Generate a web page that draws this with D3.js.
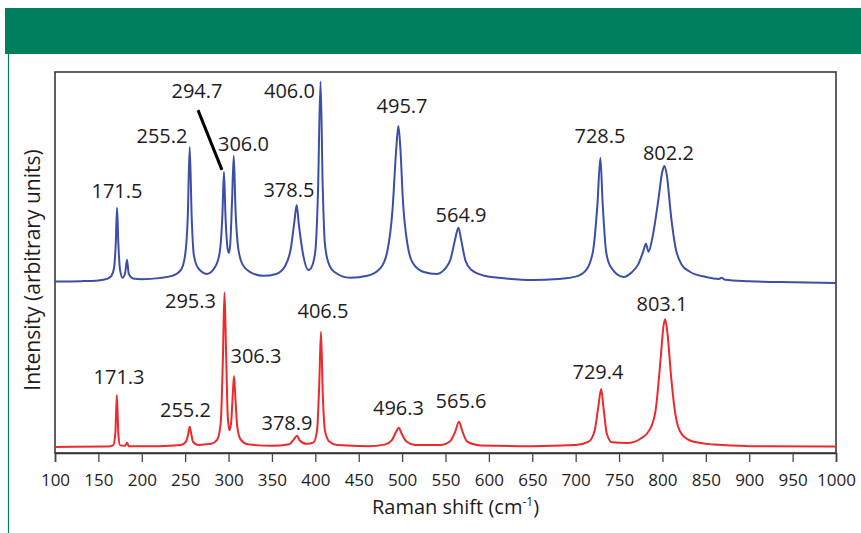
<!DOCTYPE html>
<html>
<head>
<meta charset="utf-8">
<script src="https://cdn.jsdelivr.net/npm/d3@7"></script>
<style>
  body { margin: 0; background: #fff; }
  text { font-family: "Open Sans", sans-serif; fill: #1f1c1d; }
</style>
</head>
<body>
<div id="chart"></div>
<script>
// Upper (blue) spectrum
const blueShift = [100,130,150,160,165,168,170,171.5,173,175,178,181,183,185,190,200,220,235,245,250,253,255.2,257.5,260,265,275,285,290,293,294.7,296.5,299,300.5,302,304,306,308,311,316,325,340,355,365,372,376,378.5,381,386,392,395,400,403,406,408.5,411,415,422,440,460,475,483,489,493,495.7,498,501,506,512,525,540,550,556,561,564.9,568,573,580,595,620,650,680,700,712,720,725,728.5,731,735,740,755,765,772,778,781,784,788,795,800,802.2,805,810,815,822,832,850,865,868,872,900,950,1000];
const blueIntensity = [45.0,45.1,45.3,45.7,46.5,48.5,55,64.4,55,48,46.0,47.5,50.7,47,45.8,45.6,45.9,46.5,48,52,62,80.3,62,52,48.5,47,49,53,63,73.8,62,53.5,52.5,55,66,78.0,64,54,49.5,47.5,46.5,47,49,54,61,65.1,60,52,48,48.5,53,68,97.5,70,55,50,47.5,46,46.5,48.5,53,64,79,85.8,80,66,55,50,47.5,47,48.5,51,56,59.1,56,50.5,48,46.5,45.8,45.4,45.7,46.3,48,53,65,77.5,66,53,49,46.2,47.5,49.5,53,54.9,52.8,56,66,74,75.3,73,62,54,49.5,47.5,46.2,45.7,46,45.5,45.1,44.8,44.6];

// Lower (red) spectrum
const redShift = [100,160,167,169.5,171.3,173,175,181,183,185,220,245,251,253.5,255.2,257,259,265,280,287,291,293.5,295.3,297,299,301,303,305,306.3,308,310,314,322,350,370,375,378.9,382,390,398,402,404.5,406.5,408.5,411,416,425,460,480,488,493,496.3,499,505,515,545,555,561,565.6,569,575,590,650,700,715,722,726,729.4,732,736,742,760,775,785,792,798,801,803.1,806,810,815,822,835,860,900,1000];
const redIntensity = [1.6,1.7,2.0,5,15.2,5,2.0,1.9,2.7,1.8,1.8,2.1,3,5,6.9,5,3,2.1,2.4,3.5,8,25,42.1,28,10,6.0,8,16,20.2,14,7,3.5,2.3,1.9,2.3,3.5,4.5,3.3,2.4,2.8,6,18,31.8,16,6,3,2.1,1.8,2.2,3.3,5.5,6.6,5.3,3,2.1,2.1,3,5.5,8.2,6,3,2,1.8,2.1,3,6,12,16.8,12,5,2.8,2.6,3.8,6,11,25,33,35.1,31,20,10,5,3,2.2,1.8,1.7];

// Peak labels (text, centre in cm-1, baseline in intensity units)
const blueLabels = ["171.5","255.2","294.7","306.0","378.5","406.0","495.7","564.9","728.5","802.2"];
const blueLabelX = [171.4,223.3,263.6,317.2,369.6,370.2,499.9,567.9,728.0,806.9];
const blueLabelY = [66.9,81.4,93.2,79.3,67.2,93.2,89.2,60.7,81.4,76.9];

const redLabels = ["171.3","255.2","295.3","306.3","378.9","406.5","496.3","565.6","729.4","803.1"];
const redLabelX = [173.8,250.4,256.1,331.6,367.3,408.8,495.8,567.9,725.7,799.5];
const redLabelY = [18.1,9.4,38.1,23.6,6.0,35.4,10.0,11.8,19.4,37.3];

// leader line for the 294.7 label
const leader = [[264.8, 90.0], [292.4, 74.3]];

const xTicks = d3.range(100, 1001, 50);

const W = 861, H = 533;
const margin = { top: 72, right: 25, bottom: 80, left: 55 };

const svg = d3.select("#chart").append("svg")
  .attr("width", W).attr("height", H);

svg.append("rect").attr("width", W).attr("height", H).attr("fill", "#fff");

// green header band + left rule
svg.append("rect")
  .attr("x", 5).attr("y", 8).attr("width", W - 5).attr("height", 46)
  .attr("fill", "#007f5f");
svg.append("line")
  .attr("x1", 8.5).attr("x2", 8.5).attr("y1", 54).attr("y2", H)
  .attr("stroke", "#007f5f").attr("stroke-width", 1.2);

const x = d3.scaleLinear().domain([100, 1000]).range([margin.left, W - margin.right]);
const y = d3.scaleLinear().domain([0, 100]).range([H - margin.bottom, margin.top]);

// frame
svg.append("rect")
  .attr("x", x(100)).attr("y", y(100))
  .attr("width", x(1000) - x(100)).attr("height", y(0) - y(100))
  .attr("fill", "none").attr("stroke", "#3a3a3a").attr("stroke-width", 1.6);

const xAxis = svg.append("g")
  .attr("transform", `translate(0,${y(0)})`)
  .call(d3.axisBottom(x).tickValues(xTicks).tickSize(9).tickPadding(12).tickFormat(d3.format("d")));
xAxis.select(".domain").attr("stroke", "#333").attr("stroke-width", 1.6);
xAxis.selectAll(".tick line").attr("stroke", "#444").attr("stroke-width", 1.3);
xAxis.selectAll(".tick text")
  .style("font-family", '"Open Sans", sans-serif')
  .style("font-size", "17px").attr("fill", "#1f1c1d");

// axis titles
const xt = svg.append("text")
  .attr("x", (x(100) + x(1000)) / 2 + 10).attr("y", 514)
  .attr("text-anchor", "middle").style("font-size", "20px");
xt.append("tspan").text("Raman shift (cm");
xt.append("tspan").text("-1").style("font-size", "12px").attr("dy", -8);
xt.append("tspan").text(")").attr("dy", 8);

svg.append("text")
  .attr("transform", `translate(40,${270}) rotate(-90)`)
  .attr("text-anchor", "middle").style("font-size", "21px")
  .text("Intensity (arbitrary units)");

// spectra
const line = d3.line().x(d => x(d[0])).y(d => y(d[1])).curve(d3.curveMonotoneX);

svg.append("path")
  .datum(d3.zip(blueShift, blueIntensity))
  .attr("d", line).attr("fill", "none")
  .attr("stroke", "#3b4fa6").attr("stroke-width", 2);

svg.append("path")
  .datum(d3.zip(redShift, redIntensity))
  .attr("d", line).attr("fill", "none")
  .attr("stroke", "#ec2a2c").attr("stroke-width", 2);

// labels
function addLabels(texts, xs, ys) {
  svg.selectAll(null)
    .data(texts).enter().append("text")
    .attr("x", (d, i) => x(xs[i]))
    .attr("y", (d, i) => y(ys[i]))
    .attr("text-anchor", "middle")
    .style("font-size", "20px")
    .text(d => d);
}
addLabels(blueLabels, blueLabelX, blueLabelY);
addLabels(redLabels, redLabelX, redLabelY);

svg.append("line")
  .attr("x1", x(leader[0][0])).attr("y1", y(leader[0][1]))
  .attr("x2", x(leader[1][0])).attr("y2", y(leader[1][1]))
  .attr("stroke", "#000").attr("stroke-width", 3);
</script>
</body>
</html>
